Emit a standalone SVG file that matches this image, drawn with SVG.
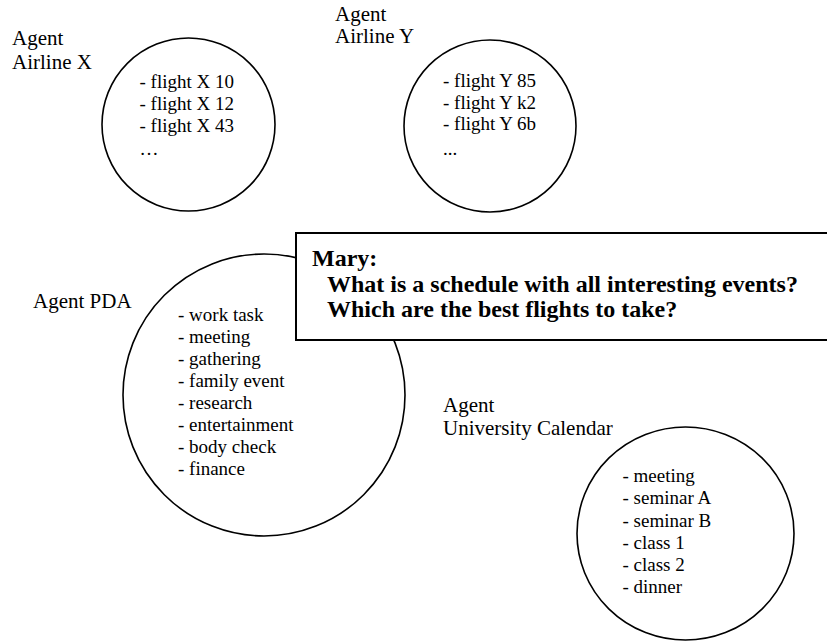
<svg xmlns="http://www.w3.org/2000/svg" width="827" height="641" viewBox="0 0 827 641">
  <style>
    .agent { fill: #ffffff; stroke: #000000; stroke-width: 1.6; }
    .label { font-family: "Liberation Serif", "Times New Roman", serif; font-size: 21px; fill: #000000; }
    .item { font-family: "Liberation Serif", "Times New Roman", serif; font-size: 19px; fill: #000000; }
    .note { fill: #ffffff; stroke: #000000; stroke-width: 2; }
    .noteText { font-family: "Liberation Serif", "Times New Roman", serif; font-size: 24px; font-weight: bold; fill: #000000; }
  </style>
  <rect x="0" y="0" width="827" height="641" fill="#ffffff"/>

  <g id="connectors"></g>

  <g id="agent-airline-x">
    <text class="label" x="12" y="45">Agent</text>
    <text class="label" x="12" y="69">Airline X</text>
    <circle class="agent" cx="188.5" cy="124.5" r="86.5"/>
    <text class="item" x="139.5" y="88">- flight X 10</text>
    <text class="item" x="139.5" y="110">- flight X 12</text>
    <text class="item" x="139.5" y="132">- flight X 43</text>
    <text class="item" x="139.5" y="155">…</text>
  </g>

  <g id="agent-airline-y">
    <text class="label" x="335" y="21">Agent</text>
    <text class="label" x="335" y="43">Airline Y</text>
    <circle class="agent" cx="490" cy="126" r="86"/>
    <text class="item" x="443" y="87">- flight Y 85</text>
    <text class="item" x="443" y="108.5">- flight Y k2</text>
    <text class="item" x="443" y="130">- flight Y 6b</text>
    <text class="item" x="443" y="155">...</text>
  </g>

  <g id="agent-pda">
    <text class="label" x="33" y="308">Agent PDA</text>
    <circle class="agent" cx="264" cy="395" r="141"/>
    <text class="item" x="178" y="321">- work task</text>
    <text class="item" x="178" y="343">- meeting</text>
    <text class="item" x="178" y="365">- gathering</text>
    <text class="item" x="178" y="387">- family event</text>
    <text class="item" x="178" y="409">- research</text>
    <text class="item" x="178" y="431">- entertainment</text>
    <text class="item" x="178" y="453">- body check</text>
    <text class="item" x="178" y="475">- finance</text>
  </g>

  <g id="mary-query">
    <rect class="note" x="296" y="233" width="545" height="107"/>
    <text class="noteText" x="312" y="266">Mary:</text>
    <text class="noteText" x="327" y="292">What is a schedule with all interesting events?</text>
    <text class="noteText" x="327" y="317">Which are the best flights to take?</text>
  </g>

  <g id="agent-university-calendar">
    <text class="label" x="443" y="412">Agent</text>
    <text class="label" x="443" y="435">University Calendar</text>
    <ellipse class="agent" cx="685.5" cy="533.5" rx="108.5" ry="106.5"/>
    <text class="item" x="622.5" y="482">- meeting</text>
    <text class="item" x="622.5" y="504">- seminar A</text>
    <text class="item" x="622.5" y="526.5">- seminar B</text>
    <text class="item" x="622.5" y="548.5">- class 1</text>
    <text class="item" x="622.5" y="571">- class 2</text>
    <text class="item" x="622.5" y="593">- dinner</text>
  </g>
</svg>
